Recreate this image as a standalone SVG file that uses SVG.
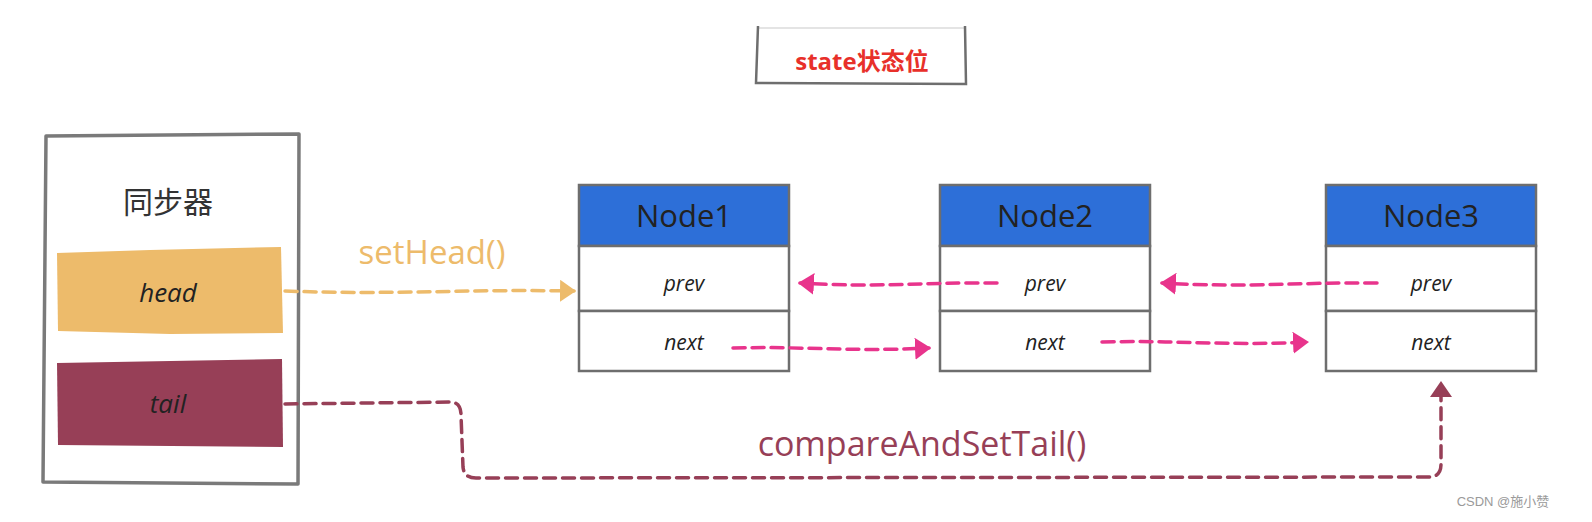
<svg xmlns="http://www.w3.org/2000/svg" width="1592" height="522" viewBox="0 0 1592 522">
<style>
.frame{fill:#fff;stroke:#7a7a7a;stroke-width:3.5;stroke-linejoin:round}
.row{fill:#fff;stroke:#6e6e6e;stroke-width:2.5}
.hdr{fill:#2D6FD8;stroke:#6e6e6e;stroke-width:2.5}
.t{font-family:"Open Sans","Liberation Sans","Noto Sans CJK SC",sans-serif;text-anchor:middle;fill:#222}
.nt{font-size:31px}
.ft{font-size:21px;font-style:italic}
.dash{fill:none;stroke-width:3.5;stroke-dasharray:12 7;stroke-linecap:round}
</style>
<defs>
<marker id="ahO" viewBox="0 0 16 22" refX="14" refY="11" markerWidth="16" markerHeight="22" markerUnits="userSpaceOnUse" orient="auto"><path d="M0,0 L16,11 L0,22 Z" fill="#EDBB6B"/></marker>
<marker id="ahP" viewBox="0 0 16 22" refX="14" refY="11" markerWidth="16" markerHeight="22" markerUnits="userSpaceOnUse" orient="auto"><path d="M0,0 L16,11 L0,22 Z" fill="#E8348C"/></marker>
<marker id="ahM" viewBox="0 0 16 22" refX="14" refY="11" markerWidth="16" markerHeight="22" markerUnits="userSpaceOnUse" orient="auto"><path d="M0,0 L16,11 L0,22 Z" fill="#973F57"/></marker>
</defs>
<rect width="1592" height="522" fill="#fff"/>

<g id="state">
<path d="M757,28 L965,28" stroke="#e4e4e4" stroke-width="2" fill="none"/>
<path d="M758,26 L756,83 L966,84 L965,26" stroke="#6e6e6e" stroke-width="2.5" fill="none"/>
<text x="862" y="70" class="t" style="font-size:24px;font-weight:bold;fill:#E8302A">state状态位</text>
</g>

<g id="sync">
<path class="frame" d="M46,136 L299,134 L298,484 L43,482 Z"/>
<text x="168" y="213" class="t" style="font-size:30px;fill:#333">同步器</text>
<path d="M57,253 L150,250 L281,247 L283,333 L170,334 L58,331 Z" fill="#EDBB6B"/>
<text x="168" y="302" class="t" style="font-size:26px;font-style:italic">head</text>
<path d="M57,363 L282,359 L283,447 L58,445 Z" fill="#973F57"/>
<text x="168" y="413" class="t" style="font-size:26px;font-style:italic">tail</text>
</g>

<g id="node1">
<rect class="hdr" x="579" y="185" width="210" height="61"/>
<rect class="row" x="579" y="246" width="210" height="65"/>
<rect class="row" x="579" y="311" width="210" height="60"/>
<text x="684" y="227" class="t nt">Node1</text>
<text x="684" y="291" class="t ft">prev</text>
<text x="684" y="350" class="t ft">next</text>
</g>

<g id="node2">
<rect class="hdr" x="940" y="185" width="210" height="61"/>
<rect class="row" x="940" y="246" width="210" height="65"/>
<rect class="row" x="940" y="311" width="210" height="60"/>
<text x="1045" y="227" class="t nt">Node2</text>
<text x="1045" y="291" class="t ft">prev</text>
<text x="1045" y="350" class="t ft">next</text>
</g>

<g id="node3">
<rect class="hdr" x="1326" y="185" width="210" height="61"/>
<rect class="row" x="1326" y="246" width="210" height="65"/>
<rect class="row" x="1326" y="311" width="210" height="60"/>
<text x="1431" y="227" class="t nt">Node3</text>
<text x="1431" y="291" class="t ft">prev</text>
<text x="1431" y="350" class="t ft">next</text>
</g>

<g id="connectors">
<path class="dash" stroke="#EDBB6B" marker-end="url(#ahO)" d="M285,291 C400,295 460,289 574,291"/>
<text x="432" y="264" class="t" style="font-size:33px;fill:#EDBB6B">setHead()</text>
<path class="dash" stroke="#E8348C" marker-end="url(#ahP)" d="M997,283 C920,282 880,288 800,283"/>
<path class="dash" stroke="#E8348C" marker-end="url(#ahP)" d="M1377,283 C1300,282 1250,288 1162,283"/>
<path class="dash" stroke="#E8348C" marker-end="url(#ahP)" d="M733,348 C800,346 850,352 929,348"/>
<path class="dash" stroke="#E8348C" marker-end="url(#ahP)" d="M1102,342 C1170,340 1230,346 1307,342"/>
<path class="dash" stroke="#973F57" marker-end="url(#ahM)" d="M285,404 L450,402 Q461,402 461,415 L463,467 Q464,478 476,478 L1429,477 Q1441,477 1441,464 L1441,383"/>
<text x="922" y="456" class="t" style="font-size:34px;fill:#973F57">compareAndSetTail()</text>
</g>

<text x="1503" y="506" style="font-family:'Liberation Sans','Noto Sans CJK SC',sans-serif;font-size:13px;fill:#9a9a9a;text-anchor:middle">CSDN @施小赞</text>
</svg>
